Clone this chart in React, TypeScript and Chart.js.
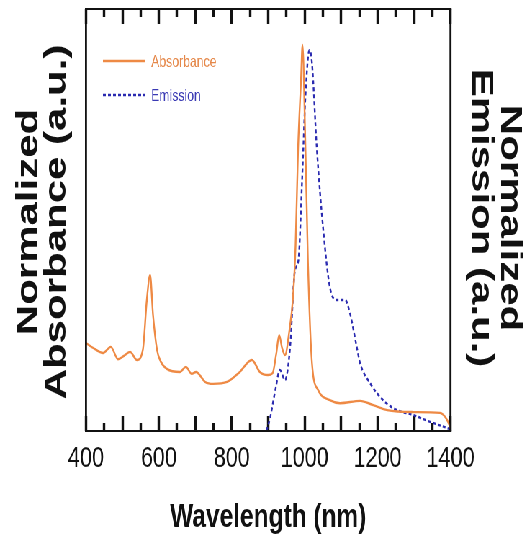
import React, { useEffect, useRef } from "react";
import { Chart, registerables } from "chart.js";
Chart.register(...registerables);

// Data
const absWavelength = [400, 420, 447, 468, 488, 505, 521, 540, 556, 567, 576, 584, 595, 605, 622, 658, 674, 690, 702, 727, 749, 787, 822, 855, 877, 899, 912, 922, 930, 938, 946, 958, 968, 975, 982, 990, 994, 1001, 1009, 1020, 1037, 1069, 1097, 1152, 1188, 1226, 1298, 1371, 1390, 1400];
const absValues = [0.228, 0.215, 0.202, 0.218, 0.186, 0.195, 0.205, 0.184, 0.21, 0.34, 0.404, 0.3, 0.21, 0.18, 0.161, 0.153, 0.166, 0.148, 0.153, 0.127, 0.122, 0.127, 0.153, 0.184, 0.153, 0.145, 0.15, 0.2, 0.248, 0.215, 0.197, 0.26, 0.347, 0.48, 0.735, 0.91, 1.0, 0.78, 0.435, 0.176, 0.106, 0.08, 0.072, 0.078, 0.067, 0.054, 0.049, 0.047, 0.03, 0.008];

const emWavelength = [895, 905, 920, 932, 946, 960, 973, 983, 993, 1002, 1013, 1020, 1033, 1051, 1069, 1088, 1111, 1124, 1143, 1152, 1179, 1215, 1253, 1298, 1344, 1390, 1400];
const emValues = [0, 0.034, 0.11, 0.16, 0.134, 0.22, 0.42, 0.45, 0.66, 0.877, 1.0, 0.966, 0.746, 0.528, 0.378, 0.344, 0.344, 0.31, 0.22, 0.178, 0.126, 0.081, 0.055, 0.042, 0.024, 0.008, 0.004];

const xTickLabels = [400, 600, 800, 1000, 1200, 1400];
const xMajorTicks = [400, 500, 600, 700, 800, 900, 1000, 1100, 1200, 1300, 1400];
const xMinorTicks = [450, 550, 650, 750, 850, 950, 1050, 1150, 1250, 1350];

const seriesNames = ["Absorbance", "Emission"];
const xTitle = "Wavelength (nm)";
const leftTitle = ["Normalized", "Absorbance (a.u.)"];
const rightTitle = ["Normalized", "Emission (a.u.)"];

const SX = 0.72; // horizontal condensation of the figure
const W = 730;
const H = 545;
const FONT = "'Liberation Sans', Arial, Helvetica, sans-serif";
const ORANGE = "#ee8a45";
const BLUE = "#2a2ab0";
const INK = "#111111";

const decorPlugin = {
  id: "decor",
  afterDraw(chart: any) {
    const ctx = chart.ctx;
    const { left, right, top, bottom } = chart.chartArea;
    ctx.save();
    ctx.setLineDash([]);
    ctx.fillStyle = INK;
    // box
    ctx.fillRect(left - 1.4, top - 1, right - left + 2.8, 2);
    ctx.fillRect(left - 1.4, bottom - 1, right - left + 2.8, 2);
    ctx.fillRect(left - 1.4, top - 1, 2.8, bottom - top + 2);
    ctx.fillRect(right - 1.4, top - 1, 2.8, bottom - top + 2);

    // titles
    ctx.textAlign = "center";
    ctx.textBaseline = "middle";
    ctx.font = `bold 34px ${FONT}`;
    ctx.fillText(xTitle, (left + right) / 2, 518);

    ctx.font = `bold 42px ${FONT}`;
    const lxs = [40.5, 79.5];
    leftTitle.forEach((t, i) => {
      ctx.save();
      ctx.translate(lxs[i], 222);
      ctx.rotate(-Math.PI / 2);
      ctx.fillText(t, 0, 0);
      ctx.restore();
    });
    const rxs = [708, 668];
    rightTitle.forEach((t, i) => {
      ctx.save();
      ctx.translate(rxs[i], 218);
      ctx.rotate(Math.PI / 2);
      ctx.fillText(t, 0, 0);
      ctx.restore();
    });

    // legend
    const ds = chart.data.datasets;
    const ly = [61, 95];
    ds.forEach((d: any, i: number) => {
      ctx.save();
      ctx.strokeStyle = d.borderColor;
      ctx.lineWidth = 2.5;
      ctx.setLineDash(d.borderDash ? [4, 3] : []);
      ctx.beginPath();
      ctx.moveTo(143, ly[i]);
      ctx.lineTo(201, ly[i]);
      ctx.stroke();
      ctx.restore();
      ctx.fillStyle = i === 0 ? "#e5884a" : "#3a3ab4";
      ctx.font = `17px ${FONT}`;
      ctx.textAlign = "left";
      ctx.textBaseline = "middle";
      ctx.fillText(d.label, 210, ly[i] + 1);
    });
    ctx.restore();
  },
};

function tickAxis(position: string, values: number[], len: number, weight: number) {
  return {
    type: "linear",
    position,
    weight,
    min: 400,
    max: 1400,
    border: { display: false },
    grid: {
      display: true,
      drawOnChartArea: false,
      drawTicks: true,
      tickLength: -len,
      tickWidth: 3.4,
      tickColor: INK,
    },
    ticks: { display: false },
    afterBuildTicks: (s: any) => {
      s.ticks = values.map((v) => ({ value: v }));
    },
    afterFit: (s: any) => {
      s.height = 0;
    },
  };
}

export default function App() {
  const ref = useRef<HTMLCanvasElement | null>(null);
  useEffect(() => {
    if (!ref.current) return;
    const chart = new Chart(ref.current, {
      type: "line",
      data: {
        datasets: [
          {
            label: seriesNames[0],
            data: absWavelength.map((x, i) => ({ x, y: absValues[i] })),
            borderColor: ORANGE,
            borderWidth: 2.4,
            pointRadius: 0,
            cubicInterpolationMode: "monotone",
            xAxisID: "x",
            yAxisID: "y",
            fill: false,
          },
          {
            label: seriesNames[1],
            data: emWavelength.map((x, i) => ({ x, y: emValues[i] })),
            borderColor: BLUE,
            borderWidth: 2.4,
            borderDash: [4, 3],
            pointRadius: 0,
            cubicInterpolationMode: "monotone",
            xAxisID: "x",
            yAxisID: "y2",
            fill: false,
          },
        ],
      },
      options: {
        animation: false,
        responsive: true,
        maintainAspectRatio: false,
        layout: { padding: { left: 119.4, right: 104.3, top: 9, bottom: 0 } },
        plugins: { legend: { display: false }, tooltip: { enabled: false } },
        scales: {
          x: {
            type: "linear",
            position: "bottom",
            weight: 1,
            min: 400,
            max: 1400,
            border: { display: false },
            grid: {
              display: true,
              drawOnChartArea: false,
              drawTicks: true,
              tickLength: -15,
              tickWidth: 3.4,
              tickColor: INK,
            },
            ticks: {
              padding: 25,
              color: INK,
              font: { family: FONT, size: 30 },
              maxRotation: 0,
              autoSkip: false,
              callback: (v: any) => (xTickLabels.includes(Number(v)) ? String(v) : ""),
            },
            afterBuildTicks: (s: any) => {
              s.ticks = xMajorTicks.map((v) => ({ value: v }));
            },
            afterFit: (s: any) => {
              s.height = 114;
            },
          },
          xMinorBottom: tickAxis("bottom", xMinorTicks, 8, 0),
          xMajorTop: tickAxis("top", xMajorTicks, 15, 0),
          xMinorTop: tickAxis("top", xMinorTicks, 8, 1),
          y: { display: false, min: 0, max: 1.093 },
          y2: { display: false, min: 0, max: 1.108 },
        },
      },
      plugins: [decorPlugin],
    });
    return () => chart.destroy();
  }, []);
  return (
    <div
      style={{
        position: "absolute",
        left: 0,
        top: 0,
        width: W,
        height: H,
        transform: `scaleX(${SX})`,
        transformOrigin: "0 0",
        background: "#fff",
      }}
    >
      <canvas ref={ref} />
    </div>
  );
}
